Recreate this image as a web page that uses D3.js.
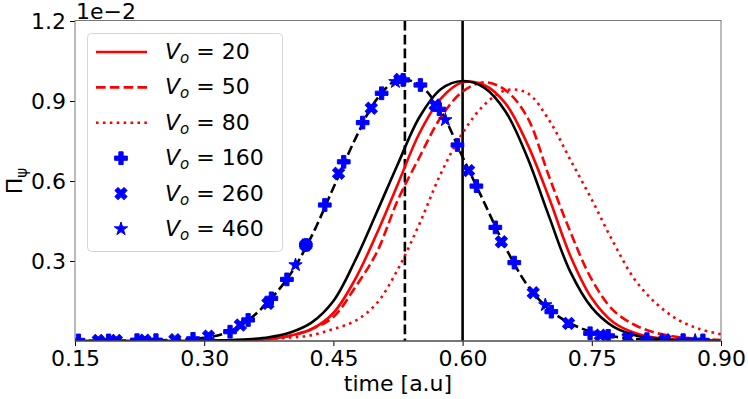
<!DOCTYPE html>
<html>
<head>
<meta charset="utf-8">
<script src="https://cdn.jsdelivr.net/npm/d3@7"></script>
<style>
  body { margin: 0; background: #fff; }
  text { font-family: "DejaVu Sans", sans-serif; }
</style>
</head>
<body>
<script>
// time grid shared by the curves
const time = [0.15, 0.175, 0.20, 0.225, 0.25, 0.275, 0.30, 0.325, 0.35, 0.375, 0.40, 0.425, 0.45, 0.475, 0.50,
  0.525, 0.55, 0.575, 0.60, 0.625, 0.65, 0.675, 0.70, 0.725, 0.75, 0.775, 0.80, 0.825, 0.85, 0.875, 0.90];

// Pi_psi values (x 1e-2)
const blackSolid = [0, 0, 0, 0, 0, 0, 0.001, 0.003, 0.006, 0.014, 0.032, 0.07, 0.15, 0.3, 0.48,
  0.665, 0.84, 0.945, 0.975, 0.95, 0.86, 0.69, 0.47, 0.26, 0.125, 0.054, 0.022, 0.008, 0.003, 0.001, 0];
const v20 = [0, 0, 0, 0, 0, 0, 0, 0.002, 0.004, 0.008, 0.02, 0.045, 0.105, 0.23, 0.40,
  0.59, 0.78, 0.91, 0.97, 0.96, 0.89, 0.74, 0.54, 0.32, 0.16, 0.07, 0.03, 0.012, 0.005, 0.002, 0.001];
const v50 = [0, 0, 0, 0, 0, 0, 0, 0.001, 0.003, 0.008, 0.02, 0.045, 0.09, 0.20, 0.33,
  0.53, 0.69, 0.84, 0.935, 0.97, 0.94, 0.84, 0.62, 0.41, 0.23, 0.115, 0.06, 0.03, 0.015, 0.008, 0.004];
const v80 = [0, 0, 0, 0, 0, 0, 0.001, 0.002, 0.004, 0.008, 0.013, 0.022, 0.045, 0.075, 0.14,
  0.27, 0.44, 0.63, 0.78, 0.885, 0.94, 0.93, 0.83, 0.68, 0.53, 0.37, 0.23, 0.14, 0.08, 0.045, 0.025];
const blackDashed = [0, 0.0005, 0.001, 0.002, 0.003, 0.006, 0.012, 0.03, 0.075, 0.15, 0.25, 0.395, 0.575, 0.755, 0.905,
  0.98, 0.96, 0.86, 0.69, 0.52, 0.35, 0.21, 0.12, 0.066, 0.034, 0.017, 0.008, 0.004, 0.002, 0.001, 0];

// marker series
const t160 = [0.154, 0.189, 0.222, 0.244, 0.287, 0.330, 0.351, 0.378, 0.396, 0.418, 0.440, 0.462, 0.484, 0.506,
  0.531, 0.551, 0.573, 0.594, 0.616, 0.638, 0.660, 0.703, 0.748, 0.769, 0.814, 0.856, 0.879];
const p160 = [0.002, 0.002, 0.003, 0.003, 0.008, 0.035, 0.079, 0.16, 0.231, 0.36, 0.51, 0.672, 0.819, 0.929,
  0.979, 0.96, 0.869, 0.735, 0.581, 0.426, 0.294, 0.11, 0.029, 0.019, 0.007, 0.003, 0.002];
const t260 = [0.177, 0.198, 0.231, 0.266, 0.305, 0.342, 0.374, 0.418, 0.456, 0.494, 0.527, 0.568, 0.607, 0.645,
  0.682, 0.723, 0.760, 0.792, 0.835];
const p260 = [0.002, 0.002, 0.003, 0.005, 0.018, 0.06, 0.141, 0.36, 0.629, 0.873, 0.981, 0.885, 0.639, 0.372,
  0.181, 0.066, 0.022, 0.012, 0.005];
const t460 = [0.406, 0.522, 0.580, 0.696, 0.870];
const p460 = [0.285, 0.972, 0.829, 0.135, 0.002];

const xTicks = [0.15, 0.30, 0.45, 0.60, 0.75, 0.90];
const yTicks = [0.3, 0.6, 0.9, 1.2];
const tPeakRef = 0.60, tPeakFree = 0.533;

const W = 748, H = 399;
const svg = d3.select("body").append("svg").attr("width", W).attr("height", H);

const x = d3.scaleLinear().domain([0.15, 0.90]).range([75, 721]);
const y = d3.scaleLinear().domain([0, 1.2]).range([341, 21]);

svg.append("clipPath").attr("id", "plot")
  .append("rect").attr("x", 75).attr("y", 21).attr("width", 646).attr("height", 320);

const plot = svg.append("g").attr("clip-path", "url(#plot)");

const line = vals => d3.line()
  .x((d, i) => x(time[i]))
  .y(d => y(d))
  .curve(d3.curveCatmullRom.alpha(0.5))(vals);

// vertical reference lines
plot.append("line").attr("x1", x(tPeakFree)).attr("x2", x(tPeakFree)).attr("y1", 21).attr("y2", 341)
  .attr("stroke", "#000").attr("stroke-width", 2.6).attr("stroke-dasharray", "9.6,4.2");
plot.append("line").attr("x1", x(tPeakRef)).attr("x2", x(tPeakRef)).attr("y1", 21).attr("y2", 341)
  .attr("stroke", "#000").attr("stroke-width", 2.6);

// curves
const curves = [
  { v: blackDashed, c: "#000", dash: "9.6,4.2" },
  { v: v80, c: "#ff0000", dash: "2.6,4.3" },
  { v: v50, c: "#ff0000", dash: "9.6,4.2" },
  { v: v20, c: "#ff0000", dash: null },
  { v: blackSolid, c: "#000", dash: null }
];
curves.forEach(s => {
  plot.append("path").attr("d", line(s.v)).attr("fill", "none")
    .attr("stroke", s.c).attr("stroke-width", 2.6)
    .attr("stroke-dasharray", s.dash);
});

// marker shapes
const plus = d3.symbol().type(d3.symbolCross).size(90)();
const star = d3.symbol().type(d3.symbolStar).size(55)();
const markers = [
  { t: t160, p: p160, path: plus, rot: 0 },
  { t: t260, p: p260, path: plus, rot: 45 },
  { t: t460, p: p460, path: star, rot: 0 }
];
markers.forEach(m => {
  plot.selectAll(null).data(m.p).enter().append("path")
    .attr("d", m.path)
    .attr("transform", (d, i) => `translate(${x(m.t[i])},${y(d)}) rotate(${m.rot})`)
    .attr("fill", "#0000ff").attr("stroke", "#0000ff").attr("stroke-width", 1);
});

// axes
const fontSize = 22;
const xAxis = svg.append("g").attr("transform", "translate(0,341)")
  .call(d3.axisBottom(x).tickValues(xTicks).tickFormat(d3.format(".2f")).tickSize(5).tickPadding(4));
const yAxis = svg.append("g").attr("transform", "translate(75,0)")
  .call(d3.axisLeft(y).tickValues(yTicks).tickFormat(d3.format(".1f")).tickSize(5).tickPadding(4));
[xAxis, yAxis].forEach(a => {
  a.select(".domain").remove();
  a.selectAll("text").attr("font-size", fontSize).attr("font-family", "DejaVu Sans").attr("fill", "#000");
  a.selectAll("line").attr("stroke", "#000").attr("stroke-width", 1);
});
yAxis.selectAll("text").attr("dy", "0.36em");

// spines
svg.append("rect").attr("x", 75).attr("y", 20.5).attr("width", 646).attr("height", 320.5)
  .attr("fill", "none").attr("stroke", "#777").attr("stroke-width", 1);
svg.append("line").attr("x1", 75).attr("x2", 721).attr("y1", 341).attr("y2", 341)
  .attr("stroke", "#333").attr("stroke-width", 1);

// axis titles
svg.append("text").attr("x", 398).attr("y", 391).attr("text-anchor", "middle")
  .attr("font-size", fontSize).text("time [a.u]");
const yl = svg.append("text").attr("transform", "translate(22,181) rotate(-90)")
  .attr("text-anchor", "middle").attr("font-size", fontSize);
yl.append("tspan").text("Π");
yl.append("tspan").attr("font-size", 15).attr("dy", 5).text("ψ");
svg.append("text").attr("x", 76).attr("y", 19).attr("font-size", fontSize).text("1e\u22122");

// legend
const legendLabels = ["20", "50", "80", "160", "260", "460"];
const legend = svg.append("g");
legend.append("rect").attr("x", 87.5).attr("y", 33.5).attr("width", 195).attr("height", 218)
  .attr("rx", 4).attr("fill", "#fff").attr("fill-opacity", 0.8)
  .attr("stroke", "#d6d6d6").attr("stroke-width", 1);
const rowY = i => 52 + i * 35.4;
[null, "9.6,4.2", "2.6,4.3"].forEach((dash, i) => {
  legend.append("line").attr("x1", 96).attr("x2", 147).attr("y1", rowY(i)).attr("y2", rowY(i))
    .attr("stroke", "#ff0000").attr("stroke-width", 2.6).attr("stroke-dasharray", dash);
});
[plus, plus, star].forEach((p, i) => {
  legend.append("path").attr("d", p)
    .attr("transform", `translate(121,${rowY(i + 3)}) rotate(${i === 1 ? 45 : 0})`)
    .attr("fill", "#0000ff").attr("stroke", "#0000ff").attr("stroke-width", 1);
});
legendLabels.forEach((lab, i) => {
  const t = legend.append("text").attr("x", 165).attr("y", rowY(i) + 7).attr("font-size", fontSize);
  t.append("tspan").attr("font-style", "italic").text("V");
  t.append("tspan").attr("font-style", "italic").attr("font-size", 15).attr("dy", 4).text("o");
  t.append("tspan").attr("dy", -4).text(" = " + lab);
});
</script>
</body>
</html>
